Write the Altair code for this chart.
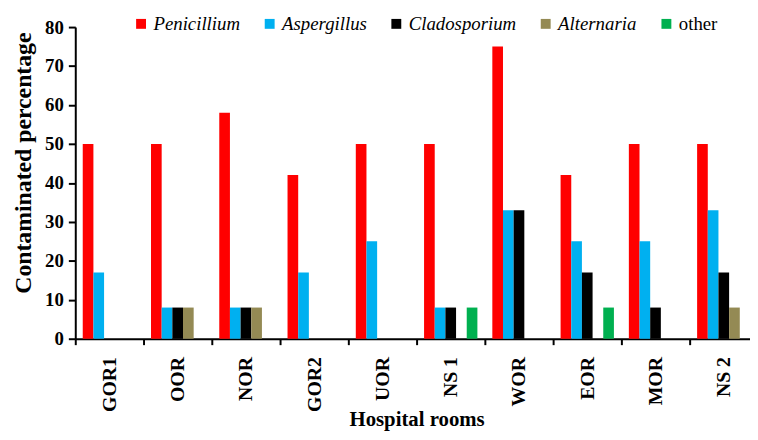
import altair as alt
import pandas as pd

rooms = ["GOR1", "OOR", "NOR", "GOR2", "UOR", "NS 1", "WOR", "EOR", "MOR", "NS 2"]
genera = ["Penicillium", "Aspergillus", "Cladosporium", "Alternaria", "other"]
penicillium = [50, 50, 58, 42, 50, 50, 75, 42, 50, 50]
aspergillus = [17, 8, 8, 17, 25, 8, 33, 25, 25, 33]
cladosporium = [0, 8, 8, 0, 0, 8, 33, 17, 8, 17]
alternaria = [0, 8, 8, 0, 0, 0, 0, 0, 0, 8]
other = [0, 0, 0, 0, 0, 8, 0, 8, 0, 0]
colors = ["#FF0000", "#00B0F0", "#000000", "#948A54", "#00B050"]

series = [penicillium, aspergillus, cladosporium, alternaria, other]
rows = []
for g, vals in zip(genera, series):
    for r, v in zip(rooms, vals):
        rows.append({"room": r, "genus": g, "value": v})
df = pd.DataFrame(rows)

FONT = "Liberation Serif"

chart = alt.Chart(df).mark_bar().encode(
    x=alt.X(
        "room:N",
        sort=rooms,
        scale=alt.Scale(domain=rooms, range=[0, 690], paddingInner=0, paddingOuter=0),
        axis=alt.Axis(
            title="Hospital rooms",
            labelAngle=270,
            tickBand="extent",
            labelFont=FONT,
            labelFontSize=20,
            labelFontWeight="bold",
            labelColor="black",
            labelPadding=12,
            domainColor="black",
            domainWidth=2,
            tickColor="black",
            tickWidth=2,
            tickSize=6,
            titleFont=FONT,
            titleFontSize=21,
            titleFontWeight="bold",
            titleColor="black",
            titleBaseline="alphabetic",
            titleY=88,
        ),
    ),
    xOffset=alt.XOffset(
        "genus:N",
        sort=genera,
        scale=alt.Scale(domain=genera, paddingInner=0, paddingOuter=0.7),
    ),
    y=alt.Y(
        "value:Q",
        scale=alt.Scale(domain=[0, 80]),
        axis=alt.Axis(
            title="Contaminated percentage",
            values=list(range(0, 90, 10)),
            grid=False,
            labelFont=FONT,
            labelFontSize=19,
            labelFontWeight="bold",
            labelColor="black",
            labelPadding=5,
            domainColor="black",
            domainWidth=2,
            tickColor="black",
            tickWidth=2,
            tickSize=7,
            titleFont=FONT,
            titleFontSize=24,
            titleFontWeight="bold",
            titleColor="black",
            titleAngle=270,
            titleAlign="center",
            titleBaseline="alphabetic",
            titleX=-45,
            titleY=137,
        ),
    ),
    color=alt.Color(
        "genus:N",
        scale=alt.Scale(domain=genera, range=colors),
        legend=alt.Legend(
            title=None,
            orient="none",
            legendX=57,
            legendY=-13,
            direction="horizontal",
            symbolType="square",
            symbolSize=100,
            symbolStrokeWidth=0,
            symbolOpacity=1,
            labelFont=FONT,
            labelFontSize=19,
            labelColor="black",
            labelFontStyle=alt.ExprRef(expr="datum.label == 'other' ? 'normal' : 'italic'"),
            labelOffset=3,
            columnPadding=20,
        ),
    ),
).properties(
    width=682,
    height=315,
    autosize=alt.AutoSizeParams(type="none"),
    padding={"left": 68, "top": 17, "right": 0, "bottom": 92},
    background="white",
).configure(
    font=FONT,
).configure_view(stroke=None)

chart.save("out.html", embed_options={"renderer": "svg", "actions": False})
